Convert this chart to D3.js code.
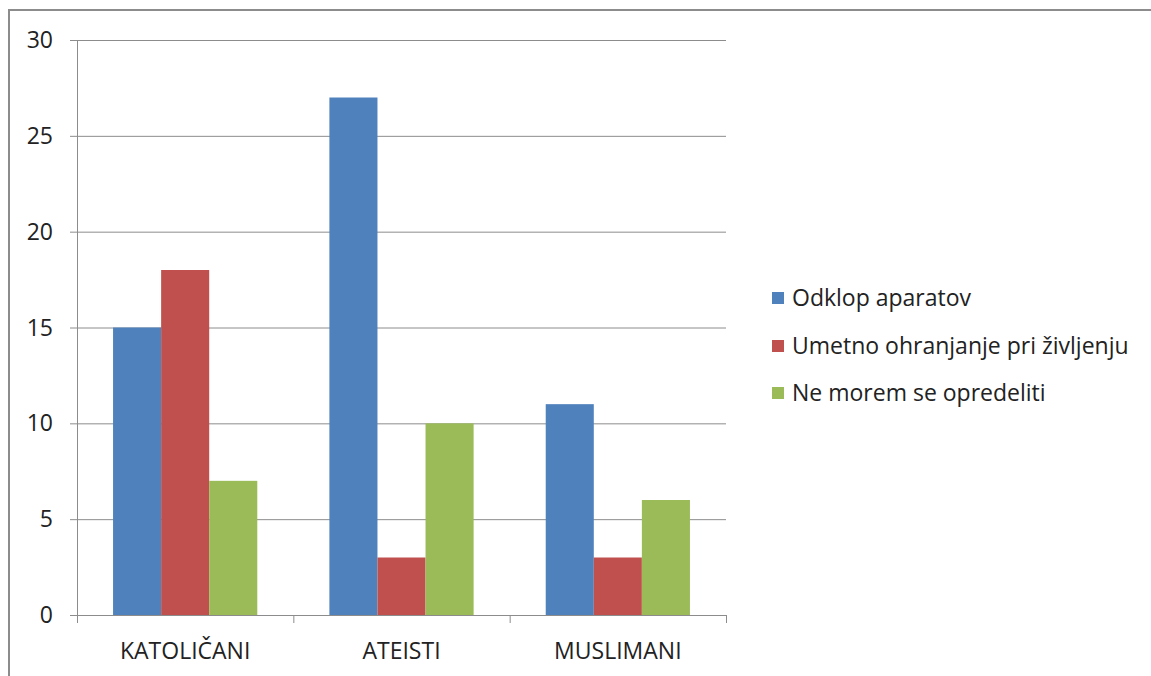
<!DOCTYPE html>
<html><head><meta charset="utf-8">
<script src="https://cdn.jsdelivr.net/npm/d3@7"></script>
<style>body{margin:0;background:#fff}svg{display:block}text{font-family:"Open Sans",sans-serif;fill:#222}</style>
</head><body><svg id="c" width="1151" height="676"></svg>
<script>
const categories = ["KATOLIČANI", "ATEISTI", "MUSLIMANI"];
const seriesNames = ["Odklop aparatov", "Umetno ohranjanje pri življenju", "Ne morem se opredeliti"];
const odklop = [15, 27, 11];
const umetno = [18, 3, 3];
const neMorem = [7, 10, 6];
const yTicks = [0, 5, 10, 15, 20, 25, 30];
const colors = ["#4F81BD", "#C0504D", "#9BBB59"];
const seriesValues = [odklop, umetno, neMorem];

const svg = d3.select("#c");
svg.append("path").attr("d", "M9,676 V10 H1151").attr("fill", "none").attr("stroke", "#8c8c8c").attr("stroke-width", 2);

const L = 77, R = 726, T = 40, B = 615;
const FS = 23;
const x = d3.scaleBand().domain(categories).range([L, R]).paddingInner(0).paddingOuter(0);
const y = d3.scaleLinear().domain([0, 30]).range([B, T]);
const xs = d3.scaleBand().domain(d3.range(3)).range([0, x.bandwidth()]).paddingInner(0).paddingOuter(0.75);

const g = svg.append("g");
yTicks.forEach(t => {
  g.append("line").attr("x1", L - 7).attr("x2", R).attr("y1", y(t) + 0.5).attr("y2", y(t) + 0.5).attr("stroke", "#8c8c8c").attr("stroke-width", 1);
  g.append("text").attr("x", 53).attr("y", y(t)).attr("dy", "0.35em").attr("text-anchor", "end").attr("font-size", FS).text(t);
});

categories.forEach((c, i) => {
  seriesValues.forEach((vals, s) => {
    svg.append("rect").attr("x", x(c) + xs(s)).attr("width", xs.bandwidth())
      .attr("y", y(vals[i])).attr("height", y(0) - y(vals[i])).attr("fill", colors[s]);
  });
});

svg.append("line").attr("x1", L + 0.5).attr("x2", L + 0.5).attr("y1", T).attr("y2", B).attr("stroke", "#8c8c8c");
svg.append("line").attr("x1", L).attr("x2", R).attr("y1", B + 0.5).attr("y2", B + 0.5).attr("stroke", "#8c8c8c");
const xt = categories.map(c => x(c)).concat([R]);
xt.forEach(v => svg.append("line").attr("x1", v + 0.5).attr("x2", v + 0.5).attr("y1", B).attr("y2", B + 8).attr("stroke", "#8c8c8c"));
categories.forEach(c => svg.append("text").attr("x", x(c) + x.bandwidth() / 2).attr("y", 651).attr("dy", "0.35em").attr("text-anchor", "middle").attr("font-size", FS).text(c));

const ly = [298, 346, 393];
seriesNames.forEach((n, i) => {
  svg.append("rect").attr("x", 772).attr("y", ly[i] - 6).attr("width", 12).attr("height", 12).attr("fill", colors[i]);
  svg.append("text").attr("x", 792).attr("y", ly[i]).attr("dy", "0.35em").attr("font-size", FS).text(n);
});
</script></body></html>
